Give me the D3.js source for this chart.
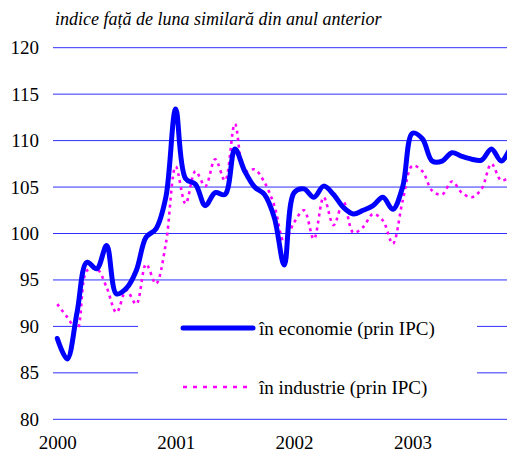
<!DOCTYPE html>
<html>
<head>
<script src="https://cdn.jsdelivr.net/npm/d3@7"></script>
</head>
<body style="margin:0">
<script>
// monthly index vs same month of previous year, Jan 2000 ..
const months = d3.range(47);
const yearLabels = ["2000", "2001", "2002", "2003"];
const yTicks = [80, 85, 90, 95, 100, 105, 110, 115, 120];

const economie = [
  88.7, 86.5, 91.5, 96.9, 96.2, 98.7, 93.5, 94.1, 96.0, 99.6, 100.5, 103.9,
  113.4, 105.9, 105.3, 103.0, 104.4, 104.2, 109.1, 106.7, 105.0, 104.2, 101.7, 96.6,
  104.4, 104.8, 103.9, 105.1, 104.2, 102.8, 102.1, 102.5, 103.0, 103.9, 102.6, 105.0,
  110.8, 110.2, 107.8, 107.8, 108.7, 108.3, 108.0, 107.9, 109.1, 107.8, 109.4
];
const industrie = [
  92.4, 91.0, 89.7, 96.0, 96.2, 94.2, 91.5, 93.9, 92.4, 96.7, 94.6, 98.9,
  107.2, 103.2, 106.7, 105.1, 108.0, 105.7, 111.8, 106.7, 106.9, 105.5, 103.0, 99.1,
  101.2, 102.5, 99.4, 103.9, 100.9, 103.4, 100.1, 100.7, 102.1, 101.4, 98.9, 103.5,
  107.3, 106.7, 104.6, 104.2, 105.6, 104.4, 103.9, 104.8, 107.5, 105.7, 106.2
];
const seriesNames = ["\u00een economie (prin IPC)", "\u00een industrie (prin IPC)"];
const title = "indice fa\u021b\u0103 de luna similar\u0103 din anul anterior";

const width = 507, height = 453;
const plotLeft = 53, plotRight = 507;

const svg = d3.select("body").append("svg")
  .attr("width", width)
  .attr("height", height);

const x = d3.scaleLinear().domain([0, 12]).range([57.3, 175.7]);
const y = d3.scaleLinear().domain([80, 120]).range([419.3, 47.7]);

svg.append("clipPath")
  .attr("id", "plotclip")
  .append("rect")
  .attr("x", plotLeft)
  .attr("y", 0)
  .attr("width", plotRight - plotLeft)
  .attr("height", height);

// gridlines
svg.selectAll("line.grid")
  .data(yTicks)
  .enter().append("line")
  .attr("class", "grid")
  .attr("x1", plotLeft)
  .attr("x2", plotRight)
  .attr("y1", d => y(d))
  .attr("y2", d => y(d))
  .attr("stroke", "#2f2fff")
  .attr("stroke-width", 1);

const line = d3.line()
  .x((d, i) => x(months[i]))
  .y(d => y(d))
  .curve(d3.curveCatmullRom);

// legend box sits over the gridlines
svg.append("rect")
  .attr("x", 138)
  .attr("y", 292)
  .attr("width", 339)
  .attr("height", 113)
  .attr("fill", "#fff");

svg.append("path")
  .datum(industrie)
  .attr("clip-path", "url(#plotclip)")
  .attr("fill", "none")
  .attr("stroke", "#ff00ff")
  .attr("stroke-width", 2.6)
  .attr("stroke-dasharray", "3,4")
  .attr("d", line);

svg.append("path")
  .datum(economie)
  .attr("clip-path", "url(#plotclip)")
  .attr("fill", "none")
  .attr("stroke", "#0000ff")
  .attr("stroke-width", 5)
  .attr("stroke-linejoin", "round")
  .attr("stroke-linecap", "round")
  .attr("d", line);

svg.selectAll("line.legline")
  .data(seriesNames)
  .enter().append("line")
  .attr("class", "legline")
  .attr("x1", 183)
  .attr("x2", 253)
  .attr("y1", (d, i) => 328 + i * 59)
  .attr("y2", (d, i) => 328 + i * 59)
  .attr("stroke", (d, i) => i === 0 ? "#0000ff" : "#ff00ff")
  .attr("stroke-width", (d, i) => i === 0 ? 5 : 2.6)
  .attr("stroke-linecap", (d, i) => i === 0 ? "round" : "butt")
  .attr("stroke-dasharray", (d, i) => i === 0 ? null : "4,6");

// all texts
const labels = [];
yTicks.forEach(v => labels.push({ t: String(v), x: 39, y: y(v) + 6.5, a: "end", s: 19 }));
yearLabels.forEach((v, i) => labels.push({ t: v, x: x(i * 12) + 0.5, y: 449, a: "middle", s: 19 }));
seriesNames.forEach((v, i) => labels.push({ t: v, x: 259, y: 335 + i * 59, a: "start", s: 19 }));
labels.push({ t: title, x: 55, y: 25, a: "start", s: 18, it: true });

svg.selectAll("text").data(labels).enter().append("text")
  .attr("x", d => d.x)
  .attr("y", d => d.y)
  .attr("text-anchor", d => d.a)
  .attr("font-family", "Liberation Serif")
  .attr("font-style", d => d.it ? "italic" : null)
  .style("font-size", d => d.s + "px")
  .text(d => d.t);
</script>
</body>
</html>
